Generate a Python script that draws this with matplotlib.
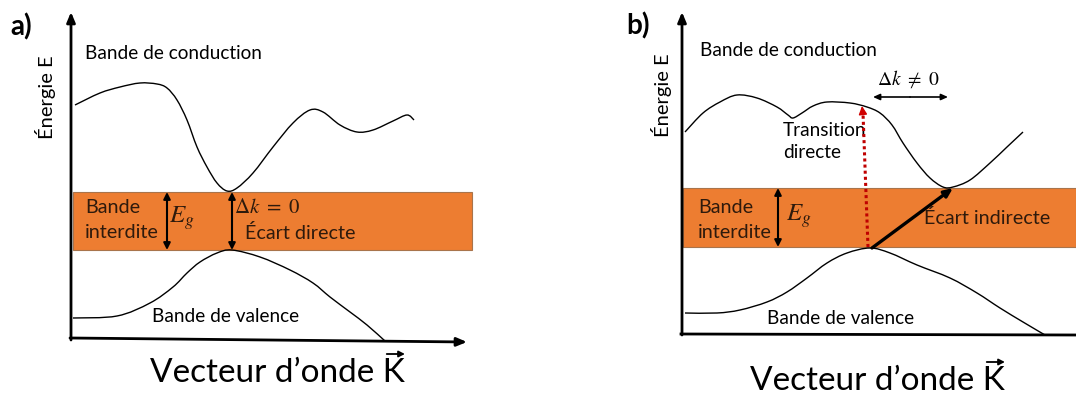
import matplotlib
matplotlib.use('Agg')
import matplotlib.pyplot as plt
from matplotlib.path import Path
from matplotlib.patches import PathPatch, Rectangle

plt.rcParams['font.family'] = ['Lato', 'DejaVu Sans']
plt.rcParams['mathtext.fontset'] = 'stix'

# courbes de bande (coordonnées en pixels, y vers le bas)
cond_a_x = [75, 100, 120, 140, 157, 167, 177, 187, 197, 207, 217, 227, 237, 253, 273, 293, 310, 323, 340, 357, 373, 393, 407, 414]
cond_a_y = [105, 93, 87, 83, 84, 88, 100, 120, 147, 167, 183, 191, 188, 173, 147, 123, 110, 112, 125, 132, 130, 121, 115, 120]
val_a_x = [73, 117, 150, 173, 187, 200, 217, 232, 260, 290, 313, 330, 350, 367, 385]
val_a_y = [318, 316, 303, 287, 273, 262, 253, 250, 257, 270, 283, 297, 312, 325, 341]

cond_b_x = [685, 703, 720, 737, 757, 777, 788, 793, 802, 813, 827, 850, 867, 880, 892, 903, 917, 930, 943, 953, 970, 990, 1007, 1023]
cond_b_y = [132, 113, 102, 95, 98, 107, 115, 118, 113, 106, 102, 103, 107, 113, 125, 143, 163, 178, 187, 187, 180, 163, 147, 132]
val_b_x = [685, 717, 740, 767, 787, 807, 827, 847, 870, 890, 917, 950, 977, 1000, 1023, 1045]
val_b_y = [313, 313, 310, 302, 292, 278, 263, 253, 248, 253, 265, 278, 293, 308, 322, 335]

# bande interdite (x0, x1, haut, bas)
gap_a = (73, 472, 192, 250)
gap_b = (683, 1076, 188, 247)

ORANGE = '#ED7D31'
TXT_BAND = '#2e1a0c'


def smooth(ax, xs, ys, lw=1.0):
    # Catmull-Rom -> Bézier cubique, passe par tous les points
    pts = list(zip(xs, ys))
    verts = [pts[0]]
    codes = [Path.MOVETO]
    n = len(pts)
    for i in range(n - 1):
        p0 = pts[i - 1] if i > 0 else pts[i]
        p1 = pts[i]
        p2 = pts[i + 1]
        p3 = pts[i + 2] if i + 2 < n else pts[i + 1]
        c1 = (p1[0] + (p2[0] - p0[0]) / 6, p1[1] + (p2[1] - p0[1]) / 6)
        c2 = (p2[0] - (p3[0] - p1[0]) / 6, p2[1] - (p3[1] - p1[1]) / 6)
        verts += [c1, c2, p2]
        codes += [Path.CURVE4] * 3
    ax.add_patch(PathPatch(Path(verts, codes), fill=False, lw=lw, color='black', zorder=3))


def arrow(ax, x0, y0, x1, y1, style='-|>', lw=1.2, color='black', hl=0.5, hw=0.22):
    ax.annotate('', xy=(x1, y1), xytext=(x0, y0),
                arrowprops=dict(arrowstyle='%s,head_length=%s,head_width=%s' % (style, hl, hw),
                                lw=lw, color=color, shrinkA=0, shrinkB=0), zorder=4)


fig = plt.figure(figsize=(10.76, 3.94), dpi=100)
ax = fig.add_axes([0, 0, 1, 1])
ax.set_xlim(0, 1076)
ax.set_ylim(394, 0)
ax.axis('off')

# bandes interdites
for x0, x1, top, bot in (gap_a, gap_b):
    ax.add_patch(Rectangle((x0, top), x1 - x0, bot - top, facecolor=ORANGE,
                           edgecolor='#a8744c', lw=0.8, zorder=1))

# axes des deux schémas
arrow(ax, 71, 340, 71, 12, lw=2.0, hl=0.6, hw=0.25)
arrow(ax, 70, 338, 467, 342, lw=2.0, hl=0.6, hw=0.25)
arrow(ax, 682, 335, 682, 12, lw=2.0, hl=0.6, hw=0.25)
ax.plot([681, 1076], [334, 335], color='black', lw=2.0, zorder=4)

# courbes
smooth(ax, cond_a_x, cond_a_y)
smooth(ax, val_a_x, val_a_y)
smooth(ax, cond_b_x, cond_b_y)
smooth(ax, val_b_x, val_b_y)

# flèches Eg et Δk
arrow(ax, 167, 221, 167, 192, lw=1.5, hl=0.4, hw=0.2)
arrow(ax, 167, 221, 167, 250, lw=1.5, hl=0.4, hw=0.2)
arrow(ax, 232, 221, 232, 192, lw=1.5, hl=0.4, hw=0.2)
arrow(ax, 232, 221, 232, 250, lw=1.5, hl=0.4, hw=0.2)
arrow(ax, 778, 218, 778, 188, lw=1.5, hl=0.4, hw=0.2)
arrow(ax, 778, 218, 778, 247, lw=1.5, hl=0.4, hw=0.2)
arrow(ax, 910, 97, 873, 97, lw=1.2, hl=0.4, hw=0.18)
arrow(ax, 910, 97, 948, 97, lw=1.2, hl=0.4, hw=0.18)

# transition directe (pointillés rouges) et écart indirect
ax.plot([868, 863], [247, 113], color='#c00000', lw=2.2, ls=(0, (1, 1)), zorder=4)
arrow(ax, 863, 115, 862, 106, color='#d00000', lw=1.0, hl=0.5, hw=0.25)
arrow(ax, 872, 248, 953, 188, lw=2.4, hl=0.5, hw=0.22)

# textes
fs = 13.7
fs_band = 14.2
ax.text(10, 27, 'a)', fontsize=20, fontweight='bold', va='center', ha='left')
ax.text(626, 26, 'b)', fontsize=20, fontweight='bold', va='center', ha='left')
ax.text(45, 97, 'Énergie E', fontsize=14.5, rotation=90, va='center', ha='center')
ax.text(662, 95, 'Énergie E', fontsize=14.5, rotation=90, va='center', ha='center')

ax.text(85, 53, 'Bande de conduction', fontsize=fs, va='center', ha='left')
ax.text(700, 50, 'Bande de conduction', fontsize=fs, va='center', ha='left')
ax.text(152, 316, 'Bande de valence', fontsize=fs, va='center', ha='left')
ax.text(767, 318, 'Bande de valence', fontsize=fs, va='center', ha='left')

for x0, yb in ((85, 207), (698, 207)):
    ax.text(x0, yb, 'Bande', fontsize=fs_band, color=TXT_BAND, va='center', ha='left')
    ax.text(x0, yb + 25, 'interdite', fontsize=fs_band, color=TXT_BAND, va='center', ha='left')
ax.text(182, 218, r'$E_g$', fontsize=18, color=TXT_BAND, va='center', ha='center')
ax.text(799, 216, r'$E_g$', fontsize=18, color=TXT_BAND, va='center', ha='center')

ax.text(234, 207, r'$\Delta k\ =\ 0$', fontsize=15, color=TXT_BAND, va='center', ha='left')
ax.text(245, 233, 'Écart directe', fontsize=fs_band, color=TXT_BAND, va='center', ha='left')
ax.text(924, 218, 'Écart indirecte', fontsize=fs_band, color=TXT_BAND, va='center', ha='left')
ax.text(877, 79, r'$\Delta k\ \neq\ 0$', fontsize=14, va='center', ha='left')
ax.text(783, 130, 'Transition', fontsize=fs, va='center', ha='left')
ax.text(783, 152, 'directe', fontsize=fs, va='center', ha='left')

# titres d'axe horizontaux avec le vecteur K
for x0, ybase in ((150, 382), (750, 390)):
    t = ax.text(x0, ybase, 'Vecteur d’onde K', fontsize=24, va='baseline', ha='left')
    k = ax.text(0, 0, 'K', fontsize=24, alpha=0)
    fig.canvas.draw()
    bb = t.get_window_extent()
    wk = k.get_window_extent().width
    k.remove()
    x_end = bb.x1
    ytop = ybase - 28
    arrow(ax, x_end - wk + 4, ytop, x_end, ytop, lw=1.3, hl=0.35, hw=0.18)

fig.savefig('out.png', dpi=100)
